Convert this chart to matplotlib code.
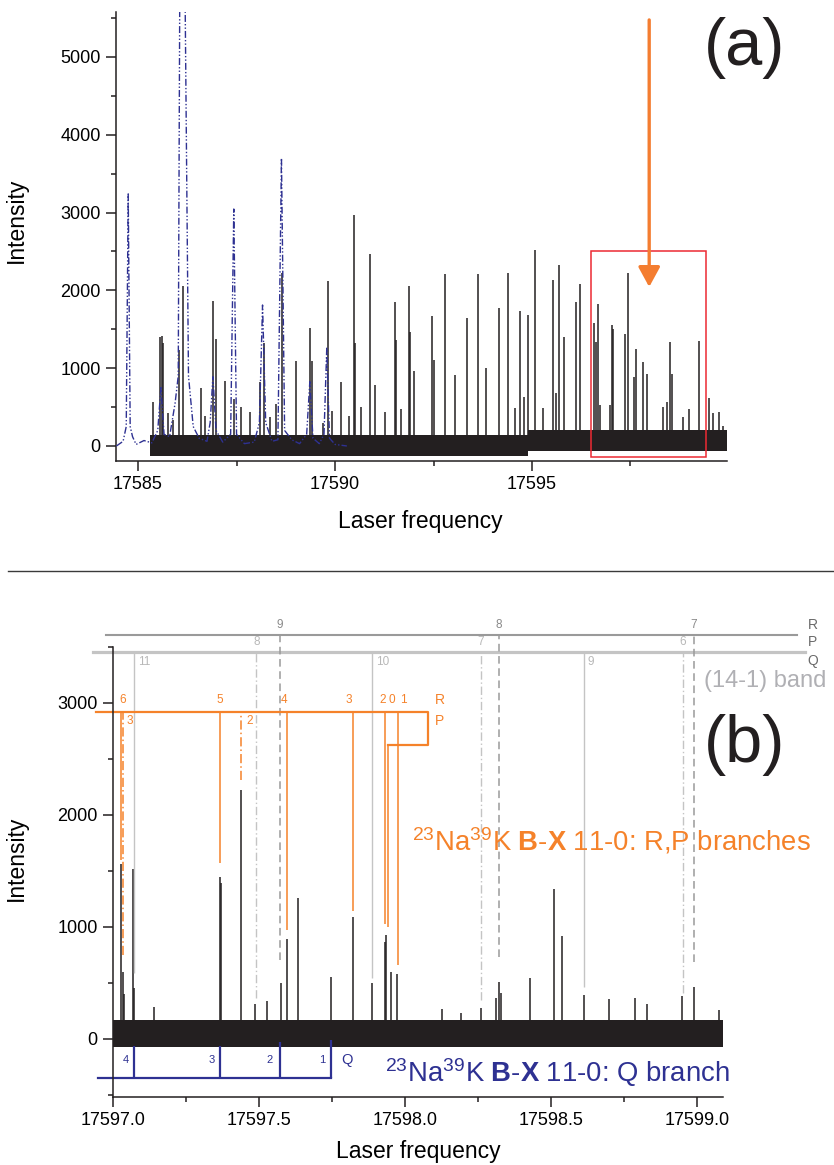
import matplotlib
matplotlib.use('Agg')
import matplotlib.pyplot as plt
from matplotlib.patches import Rectangle
from matplotlib.lines import Line2D
from matplotlib.ticker import MultipleLocator, FormatStrFormatter

plt.rcParams['font.family'] = ['Liberation Sans', 'DejaVu Sans']
plt.rcParams['mathtext.fontset'] = 'custom'
plt.rcParams['mathtext.rm'] = 'Liberation Sans'
plt.rcParams['mathtext.bf'] = 'Liberation Sans:bold'
plt.rcParams['mathtext.it'] = 'Liberation Sans:italic'

INK = '#231f20'
ORANGE = '#f5822a'
BLUE = '#2e3192'
GRAY_D = '#9a9a9a'
GRAY_L = '#c4c4c4'

# ---------------- panel (a) data ----------------
a_peak_freq = [17585.371, 17585.557, 17585.616, 17585.641, 17585.760, 17585.887,
               17586.039, 17586.141, 17586.590, 17586.691, 17586.910, 17586.970,
               17587.207, 17587.443, 17587.620, 17587.841, 17588.095, 17588.204,
               17588.349, 17588.493, 17588.661, 17589.009, 17589.372, 17589.415,
               17589.694, 17589.813, 17589.922, 17590.151, 17590.362, 17590.481,
               17590.506, 17590.658, 17590.879, 17591.006, 17591.260, 17591.513,
               17591.547, 17591.673, 17591.869, 17591.902, 17591.995, 17592.468,
               17592.504, 17592.790, 17593.036, 17593.341, 17593.628, 17593.831,
               17594.153, 17594.382, 17594.567, 17594.702, 17594.796, 17594.889,
               17595.074, 17595.270, 17595.524, 17595.600, 17595.684, 17595.810,
               17596.107, 17596.224, 17596.580, 17596.615, 17596.681, 17596.724,
               17596.970, 17597.021, 17597.062, 17597.366, 17597.435, 17597.579,
               17597.638, 17597.815, 17597.925, 17598.331, 17598.416, 17598.508,
               17598.543, 17598.822, 17598.975, 17599.229, 17599.491, 17599.585,
               17599.746, 17599.856]
a_peak_height = [562, 1399, 1408, 1322, 420, 335,
                 1236, 2052, 742, 380, 1858, 1373,
                 837, 600, 498, 433, 820, 1322,
                 378, 541, 2223, 1094, 1515, 1086,
                 290, 2116, 455, 828, 380, 2974,
                 1322, 506, 2468, 785, 433, 1850,
                 1365, 475, 2060, 1459, 966, 1665,
                 1107, 2215, 914, 1644, 2210, 998,
                 1778, 2220, 484, 1735, 634, 1684,
                 2519, 484, 2134, 685, 2326, 1405,
                 1847, 2078, 1577, 1341, 1821, 527,
                 527, 1555, 1500, 1435, 2220, 891,
                 1247, 1084, 925, 500, 560, 1333,
                 920, 370, 470, 1345, 613, 420,
                 440, 260]
# noise band of the high resolution scan (envelope)
a_band_freq = [17585.30, 17594.90, 17594.90, 17599.95]
a_band_lo = [-130, -130, -70, -70]
a_band_hi = [140, 140, 200, 200]

# low resolution scan (blue dash-dot)
lowres_freq = [17584.45, 17584.62, 17584.70, 17584.75, 17584.80, 17584.86, 17584.95,
               17585.15, 17585.35, 17585.50, 17585.58, 17585.66, 17585.80, 17585.94,
               17586.02, 17586.06, 17586.19, 17586.28, 17586.40, 17586.55, 17586.75,
               17586.83, 17586.90, 17586.98, 17587.15, 17587.35, 17587.43, 17587.50,
               17587.70, 17587.95, 17588.08, 17588.16, 17588.24, 17588.40, 17588.55,
               17588.64, 17588.72, 17588.90, 17589.10, 17589.28, 17589.36, 17589.44,
               17589.60, 17589.72, 17589.79, 17589.86, 17590.00, 17590.30]
lowres_int = [0, 60, 250, 3240, 250, 120, 20,
              70, 40, 200, 750, 150, 120, 550,
              900, 6000, 6000, 900, 250, 100, 60,
              300, 890, 200, 50, 150, 3046, 150,
              30, 50, 300, 1812, 300, 60, 80,
              3700, 200, 80, 30, 150, 826, 100,
              30, 150, 1257, 100, 20, 0]

zoom_box = (17596.50, 17599.42, -141, 2500)
arrow_freq = 17597.975
arrow_from, arrow_to = 5476, 2044

# ---------------- panel (b) data ----------------
b_peak_freq = [17597.027, 17597.033, 17597.038, 17597.067, 17597.073, 17597.140,
               17597.365, 17597.370, 17597.438, 17597.488, 17597.529, 17597.574,
               17597.597, 17597.634, 17597.748, 17597.823, 17597.887, 17597.933,
               17597.937, 17597.951, 17597.974, 17598.126, 17598.193, 17598.261,
               17598.313, 17598.324, 17598.330, 17598.430, 17598.511, 17598.539,
               17598.615, 17598.700, 17598.788, 17598.830, 17598.950, 17598.990,
               17599.075]
b_peak_height = [1562, 600, 400, 1515, 454, 285,
                 1443, 1390, 2223, 312, 342, 497,
                 890, 1256, 557, 1092, 497, 863,
                 932, 598, 580, 268, 230, 277,
                 370, 506, 408, 548, 1336, 920,
                 393, 354, 363, 312, 384, 461,
                 260]
b_band_freq = [17597.0, 17599.09]
b_band_lo = [-70, -70]
b_band_hi = [170, 170]

# (14-1) band assignments
g_R_level, g_PQ_level = 3607, 3458
g_R_span = (17596.976, 17599.343)
g_PQ_span = (17596.932, 17599.372)
g_R_freq = [17597.571, 17598.321, 17598.989]
g_R_end = [705, 735, 690]
g_R_lab = ['9', '8', '7']
g_P_freq = [17597.491, 17598.260, 17598.953]
g_P_end = [366, 348, 408]
g_P_lab = ['8', '7', '6']
g_Q_freq = [17597.073, 17597.888, 17598.614]
g_Q_end = [590, 545, 467]
g_Q_lab = ['11', '10', '9']

# 23Na39K B-X 11-0, R and P branches
o_level = 2920
o_span = (17596.942, 17598.079)
o_step_level = 2625
o_step_freq = 17597.941
o_R_freq = [17597.026, 17597.366, 17597.597, 17597.822, 17597.933, 17597.975]
o_R_end = [1598, 1574, 973, 1146, 1027, 661]
o_R0_end = 1003
o_R_lab = ['6', '5', '4', '3', '2', '0', '1']
o_R_lab_x = [17597.033, 17597.365, 17597.587, 17597.807, 17597.924, 17597.954, 17597.994]
o_P_freq = [17597.033, 17597.438]
o_P_end = [750, 2312]
o_P_lab = ['3', '2']
o_P_lab_x = [17597.056, 17597.467]

# 23Na39K B-X 11-0, Q branch
q_level = -348
q_span = (17596.949, 17597.746)
q_freq = [17597.073, 17597.366, 17597.572, 17597.746]
q_top = [-62, -62, -30, -9]
q_lab = ['4', '3', '2', '1']
q_lab_x = [17597.045, 17597.339, 17597.538, 17597.716]

W, H = 834, 1165
fig = plt.figure(figsize=(W / 100, H / 100), dpi=100)


def style_axes(ax):
    for s in ['top', 'right']:
        ax.spines[s].set_visible(False)
    for s in ['left', 'bottom']:
        ax.spines[s].set_linewidth(1.1)
        ax.spines[s].set_color(INK)
    ax.tick_params(which='major', direction='out', length=7, width=1.1,
                   labelsize=13, pad=4, color=INK)
    ax.tick_params(which='minor', direction='out', length=3.6, width=1.1, color=INK)


# ---------------- panel (a) ----------------
ax1 = fig.add_axes([116 / W, 1 - 461 / H, 611 / W, 449 / H])
ax1.fill_between(a_band_freq, a_band_lo, a_band_hi, color=INK, lw=0, zorder=2)
ax1.vlines(a_peak_freq, 0, a_peak_height, color=INK, lw=1.1, zorder=2)
ax1.plot(lowres_freq, lowres_int, color=BLUE, lw=1.0,
         linestyle=(0, (5, 1.5, 1, 1.5, 1, 1.5)), zorder=3)
ax1.add_patch(Rectangle((zoom_box[0], zoom_box[2]), zoom_box[1] - zoom_box[0],
                        zoom_box[3] - zoom_box[2], fill=False,
                        edgecolor='#ec2a33', lw=1.1, zorder=4))
ax1.annotate('', xy=(arrow_freq, arrow_to), xytext=(arrow_freq, arrow_from),
             arrowprops=dict(arrowstyle='-|>,head_length=0.55,head_width=0.3',
                             mutation_scale=22, lw=2.4, color='#f47d30',
                             shrinkA=0, shrinkB=0),
             annotation_clip=False, zorder=5)
ax1.set_xlim(17584.44, 17599.95)
ax1.set_ylim(-193, 5578)
ax1.xaxis.set_major_locator(MultipleLocator(5))
ax1.xaxis.set_minor_locator(MultipleLocator(2.5))
ax1.yaxis.set_major_locator(MultipleLocator(1000))
ax1.yaxis.set_minor_locator(MultipleLocator(500))
style_axes(ax1)
ax1.set_xlabel('Laser frequency', fontsize=16.5)
ax1.set_ylabel('Intensity', fontsize=16.5)
ax1.xaxis.set_label_coords(0.4975, -0.109)
ax1.yaxis.set_label_coords(-0.145, 0.537)
fig.text(745 / W, 1 - 48 / H, '(a)', fontsize=48, ha='center', va='center', color=INK)

# separator
fig.add_artist(Line2D([8 / W, 1.0], [1 - 571 / H, 1 - 571 / H],
                      transform=fig.transFigure, color='#3a3a3a', lw=1.0))

# ---------------- panel (b) ----------------
ax2 = fig.add_axes([113 / W, 1 - 1097 / H, 610 / W, 450 / H])
ax2.fill_between(b_band_freq, b_band_lo, b_band_hi, color=INK, lw=0, zorder=2)
ax2.vlines(b_peak_freq, 0, b_peak_height, color=INK, lw=1.1, zorder=2)

kw = dict(clip_on=False)
# (14-1) band
ax2.plot(g_R_span, [g_R_level] * 2, color=GRAY_D, lw=1.5, **kw)
ax2.plot(g_PQ_span, [g_PQ_level] * 2, color=GRAY_L, lw=2.3, **kw)
ax2.vlines(g_R_freq, g_R_end, g_R_level, color=GRAY_D, lw=1.1,
           linestyles=(0, (5, 3)), **kw)
ax2.vlines(g_P_freq, g_P_end, g_PQ_level, color=GRAY_L, lw=1.0,
           linestyles=(0, (6, 2, 1, 2)), **kw)
ax2.vlines(g_Q_freq, g_Q_end, g_PQ_level, color=GRAY_L, lw=1.0, **kw)
for f, t in zip(g_R_freq, g_R_lab):
    ax2.text(f, 3696, t, fontsize=8.5, color='#8a8a8a', ha='center', va='center')
for f, t in zip(g_P_freq, g_P_lab):
    ax2.text(f, 3545, t, fontsize=8.5, color='#b8b8b8', ha='center', va='center')
for f, t in zip(g_Q_freq, g_Q_lab):
    ax2.text(f + 0.012, 3366, t, fontsize=8.5, color='#b8b8b8', ha='left', va='center')
for y, t in zip([3696, 3545, 3375], ['R', 'P', 'Q']):
    ax2.text(17599.38, y, t, fontsize=10, color='#6a6a6a', ha='left', va='center')
ax2.text(17599.024, 3143, '(14-1) band', fontsize=17, color='#b0b0b4',
         ha='left', va='baseline')

# R,P branches
ax2.plot([o_span[0], o_span[1], o_span[1], o_step_freq],
         [o_level, o_level, o_step_level, o_step_level], color=ORANGE, lw=1.6, **kw)
ax2.vlines(o_R_freq, o_R_end, o_level, color=ORANGE, lw=1.1)
ax2.vlines([o_step_freq], [o_R0_end], o_step_level, color=ORANGE, lw=1.1)
ax2.vlines(o_P_freq, o_P_end, o_level, color=ORANGE, lw=1.1,
           linestyles=(0, (6, 2, 1, 2)))
for f, t in zip(o_R_lab_x, o_R_lab):
    ax2.text(f, 3027, t, fontsize=8.5, color=ORANGE, ha='center', va='center')
for f, t in zip(o_P_lab_x, o_P_lab):
    ax2.text(f, 2842, t, fontsize=8.5, color=ORANGE, ha='center', va='center')
ax2.text(17598.120, 3027, 'R', fontsize=10, color=ORANGE, ha='center', va='center')
ax2.text(17598.120, 2842, 'P', fontsize=10, color=ORANGE, ha='center', va='center')
ax2.text(17598.024, 1679, r'$^{23}$Na$^{39}$K $\mathbf{B}$-$\mathbf{X}$ 11-0: R,P branches',
         fontsize=19.8, color=ORANGE, ha='left', va='baseline')

# Q branch
ax2.plot(q_span, [q_level] * 2, color=BLUE, lw=1.6, **kw)
ax2.vlines(q_freq, q_level, q_top, color=BLUE, lw=1.6)
for f, t in zip(q_lab_x, q_lab):
    ax2.text(f, -187, t, fontsize=8, color=BLUE, ha='center', va='center')
ax2.text(17597.801, -187, 'Q', fontsize=10.5, color=BLUE, ha='center', va='center')
ax2.text(17597.932, -381, r'$^{23}$Na$^{39}$K $\mathbf{B}$-$\mathbf{X}$ 11-0: Q branch',
         fontsize=19.8, color=BLUE, ha='left', va='baseline')

ax2.set_xlim(17597.0, 17599.09)
ax2.set_ylim(-518, 3500)
ax2.xaxis.set_major_locator(MultipleLocator(0.5))
ax2.xaxis.set_minor_locator(MultipleLocator(0.25))
ax2.xaxis.set_major_formatter(FormatStrFormatter('%.1f'))
ax2.yaxis.set_major_locator(MultipleLocator(1000))
ax2.yaxis.set_minor_locator(MultipleLocator(500))
style_axes(ax2)
ax2.set_xlabel('Laser frequency', fontsize=16.5)
ax2.set_ylabel('Intensity', fontsize=16.5)
ax2.xaxis.set_label_coords(0.5, -0.096)
ax2.yaxis.set_label_coords(-0.139, 0.531)
fig.text(745 / W, 1 - 745 / H, '(b)', fontsize=48, ha='center', va='center', color=INK)

fig.savefig('out.png', dpi=100)
